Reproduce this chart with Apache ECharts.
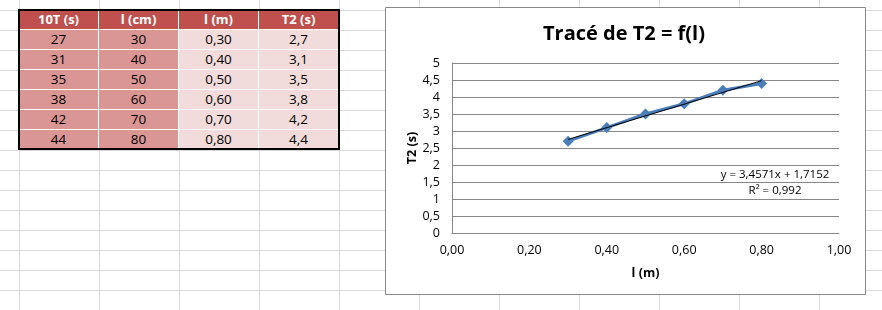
<!DOCTYPE html>
<html>
<head>
<meta charset="utf-8">
<script src="https://cdn.jsdelivr.net/npm/echarts@6/dist/echarts.min.js"></script>
<style>
  html, body { margin: 0; padding: 0; background: #fff; overflow: hidden; }
  #sheet { position: absolute; left: 0; top: 0; width: 882px; height: 310px;
    background-image:
      linear-gradient(to right, #d9d9d9 1px, transparent 1px),
      linear-gradient(to bottom, #d9d9d9 1px, transparent 1px);
    background-size: 80px 20px, 80px 20px;
    background-position: 19px 0, 0 10px;
  }
  .cell { position: absolute; width: 80px; height: 20px; box-sizing: border-box;
    border-right: 1px solid #fff; border-bottom: 1px solid #fff;
    font-family: "Open Sans", sans-serif; font-size: 13.5px; line-height: 19px;
    text-align: center; color: #000; }
  .hdr { background: #c0504d; color: #fff; font-weight: bold; font-size: 13px; }
  .dark { background: #da9694; }
  .light { background: #f2dcdb; }
  #frame { position: absolute; left: 18px; top: 9px; width: 322px; height: 141px;
    box-sizing: border-box; border: 2px solid #000; }
  #chart { position: absolute; left: 0; top: 0; width: 882px; height: 310px; }
</style>
</head>
<body>
<div id="sheet"></div>
<div id="table"></div>
<div id="frame"></div>
<div id="chart"></div>
<script>
// ---- data ----
const headers = ['10T (s)', 'l (cm)', 'l (m)', 'T2 (s)'];
const tenT = [27, 31, 35, 38, 42, 44];
const lCm = [30, 40, 50, 60, 70, 80];
const lM = [0.30, 0.40, 0.50, 0.60, 0.70, 0.80];
const T2 = [2.7, 3.1, 3.5, 3.8, 4.2, 4.4];
const trendX = [0.30, 0.80];
const trendY = [2.752, 4.481];
const equationText = 'y = 3,4571x + 1,7152';
const r2Text = 'R² = 0,992';
const titleText = 'Tracé de T2 = f(l)';
const xName = 'l (m)';
const yName = 'T2 (s)';

// ---- spreadsheet table ----
const fmt2 = v => v.toFixed(2).replace('.', ',');
const fmt1 = v => v.toFixed(1).replace('.', ',');
const tbl = document.getElementById('table');
function addCell(r, c, text, cls) {
  const d = document.createElement('div');
  d.className = 'cell ' + cls;
  d.style.left = (19 + 80 * c) + 'px';
  d.style.top = (10 + 20 * r) + 'px';
  d.textContent = text;
  tbl.appendChild(d);
}
headers.forEach((h, c) => addCell(0, c, h, 'hdr'));
for (let i = 0; i < tenT.length; i++) {
  addCell(i + 1, 0, String(tenT[i]), 'dark');
  addCell(i + 1, 1, String(lCm[i]), 'dark');
  addCell(i + 1, 2, fmt2(lM[i]), 'light');
  addCell(i + 1, 3, fmt1(T2[i]), 'light');
}

// ---- chart ----
const chart = echarts.init(document.getElementById('chart'), null, { renderer: 'canvas' });
const font = '"Open Sans", sans-serif';
chart.setOption({
  animation: false,
  backgroundColor: 'transparent',
  graphic: [
    { type: 'rect', z: -100, shape: { x: 385.5, y: 7.5, width: 480, height: 287 },
      style: { fill: '#fff', stroke: '#878787', lineWidth: 1 } },
    { type: 'text', z: 100, x: 624, y: 34,
      style: { text: titleText, fill: '#000', font: 'bold 20px ' + font, align: 'center', verticalAlign: 'middle' } },
    { type: 'text', z: 100, x: 775, y: 175,
      style: { text: equationText, fill: '#000', font: '11.5px ' + font, align: 'center', verticalAlign: 'middle' } },
    { type: 'text', z: 100, x: 775, y: 191,
      style: { text: r2Text, fill: '#000', font: '11.5px ' + font, align: 'center', verticalAlign: 'middle' } }
  ],
  grid: { left: 452, top: 63, width: 387, height: 170, containLabel: false },
  xAxis: {
    type: 'value', min: 0, max: 1, interval: 0.2,
    name: xName, nameLocation: 'middle', nameGap: 34,
    nameTextStyle: { fontFamily: font, fontSize: 12.5, fontWeight: 'bold', color: '#000' },
    axisLine: { show: true, onZero: false, lineStyle: { color: '#878787', width: 1 } },
    axisTick: { show: false },
    splitLine: { show: false },
    axisLabel: { margin: 11, fontFamily: font, fontSize: 12.5, color: '#000',
      formatter: v => fmt2(v) }
  },
  yAxis: {
    type: 'value', min: 0, max: 5, interval: 0.5,
    name: yName, nameLocation: 'middle', nameGap: 33, nameRotate: 90,
    nameTextStyle: { fontFamily: font, fontSize: 12.5, fontWeight: 'bold', color: '#000' },
    axisLine: { show: true, lineStyle: { color: '#878787', width: 1 } },
    axisTick: { show: false },
    splitLine: { show: true, lineStyle: { color: '#878787', width: 1 } },
    axisLabel: { margin: 12, fontFamily: font, fontSize: 12.5, color: '#000',
      formatter: v => String(v).replace('.', ',') }
  },
  series: [
    { type: 'line', data: lM.map((x, i) => [x, T2[i]]),
      symbol: 'diamond', symbolSize: 11, showAllSymbol: true,
      lineStyle: { color: '#4a7ebb', width: 3 },
      itemStyle: { color: '#4a7ebb', borderWidth: 0 }, z: 2 },
    { type: 'line', data: trendX.map((x, i) => [x, trendY[i]]),
      symbol: 'none', lineStyle: { color: '#000', width: 1 }, z: 3 }
  ]
});
</script>
</body>
</html>
